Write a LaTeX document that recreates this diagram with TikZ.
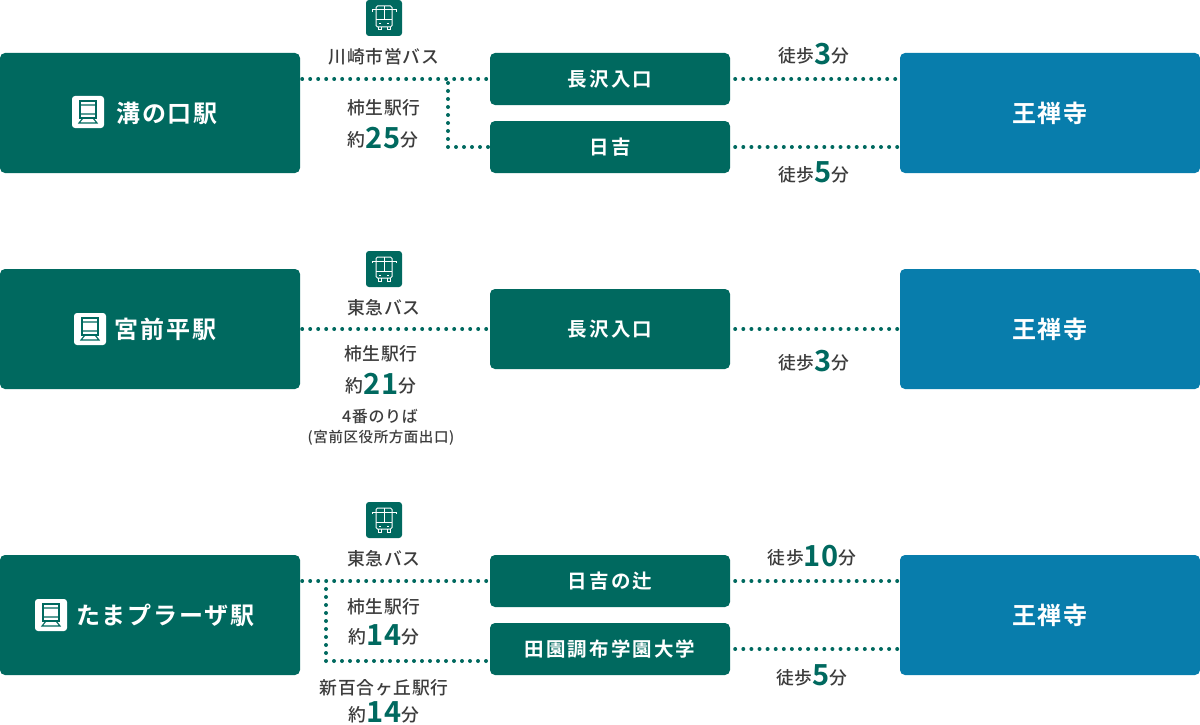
\documentclass[tikz,border=0pt]{standalone}
\usepackage{fontspec}
\setmainfont{Noto Sans CJK JP}
\newfontfamily\boxfont{Noto Sans CJK JP Bold}[LetterSpace=8]
\newfontfamily\stopfont{Noto Sans CJK JP Bold}[LetterSpace=11]
\newfontfamily\notefont{Noto Sans CJK JP Medium}[LetterSpace=4]
\newfontfamily\numfont{Noto Sans CJK JP Bold}[LetterSpace=2]
\definecolor{tealbox}{HTML}{00695F}
\definecolor{bluebox}{HTML}{087DAC}
\definecolor{notegray}{HTML}{3C3C3C}
\newcommand{\mins}[1]{\raisebox{-1.5pt}{\fontsize{29}{29}\numfont\textcolor{tealbox}{#1}}}
\tikzset{
    stationbox/.style={fill=tealbox, rounded corners=5pt, minimum width=300pt, minimum height=120pt, inner sep=0pt, text=white, font=\fontsize{24}{24}\boxfont},
    templebox/.style={stationbox, fill=bluebox},
    stopbox/.style={fill=tealbox, rounded corners=5pt, minimum width=240pt, minimum height=52pt, inner sep=0pt, text=white, font=\fontsize{19.5}{20}\stopfont},
    note/.style={inner sep=0pt, yshift=-0.7pt, text=notegray, font=\fontsize{17.8}{18}\notefont},
    smallnote/.style={note, font=\fontsize{16}{16}\notefont},
    exitnote/.style={note, font=\fontsize{14.5}{15}\notefont},
    dotline/.style={draw=tealbox, line width=4pt, line cap=round, dash pattern=on 0pt off 8pt},
    walkline/.style={dotline, dash pattern=on 0pt off 8.1pt},
    trainicon/.pic={
        \fill[white, rounded corners=3pt] (-16,-16) rectangle (16,16);
        \draw[tealbox, line width=1.1pt] (-8,6) -- (-8,-11) -- (8,-11) -- (8,6) -- cycle;
        \draw[tealbox, line width=1.1pt] (-8,-7) -- (8,-7) (-8,2) -- (8,2) (-5,6) -- (-9,11) -- (9,11) -- (5,6);
    },
    busicon/.pic={
        \fill[tealbox, rounded corners=3pt] (-18,-18) rectangle (18,18);
        \draw[white, line width=1pt, rounded corners=1.5pt] (-8,-12) rectangle (8,9);
        \draw[white, line width=1pt] (-8,2) -- (8,2) (0,-12) -- (0,2) (-12,-6) -- (-12,-8) -- (12,-8) -- (12,-6) (-5,6) -- (-3,6) (3,6) -- (5,6) (-6,9) -- (-6,12) -- (-3,12) -- (-3,9) (3,9) -- (3,12) -- (6,12) -- (6,9);
    }
}
\begin{document}
\begin{tikzpicture}[x=1pt, y=-1pt]
    \useasboundingbox (0,0) rectangle (1200,725);

    % --- MIZONOKUCHI ---
    \node[stationbox] (mizo) at (150,113) {\hspace*{34pt}溝の口駅};
    \pic at (88,112) {trainicon};
    \node[stopbox] (nagasawaA) at (610,79) {長沢入口};
    \node[stopbox] (hiyoshiA) at (610,147) {日吉};
    \node[templebox] (templeA) at (1050,113) {王禅寺};
    \pic at (384,18) {busicon};
    \node[note] (busA) at (384,56) {川崎市営バス};
    \node[note] (destA) at (384,107) {柿生駅行};
    \node[note] (timeA) at (383,137) {約\mins{25}分};
    \node[note] (walkA) at (814,53) {徒歩\mins{3}分};
    \node[note] (walkB) at (814,172) {徒歩\mins{5}分};
    % Bus and walking lines
    \coordinate (forkA) at (448,79);
    \draw[dotline] (nagasawaA.west -| mizo.east) ++(2,0) -- ([xshift=-3pt]nagasawaA.west);
    \draw[dotline] (forkA) ++(0,4) -- (forkA |- hiyoshiA.west) -- ([xshift=-1pt]hiyoshiA.west);
    \draw[dotline] ([xshift=5pt]nagasawaA.east) -- (nagasawaA.east -| templeA.west);
    \draw[walkline] ([xshift=5pt]hiyoshiA.east) -- (hiyoshiA.east -| templeA.west);

    % --- MIYAMAEDAIRA ---
    \node[stationbox] (miya) at (150,329) {\hspace*{31pt}宮前平駅};
    \pic at (90,329) {trainicon};
    \node[stopbox, minimum height=80pt] (nagasawaB) at (610,329) {長沢入口};
    \node[templebox] (templeB) at (1050,329) {王禅寺};
    \pic at (384,269) {busicon};
    \node[note] (busB) at (384,307) {東急バス};
    \node[note] (destB) at (381,353) {柿生駅行};
    \node[note] (timeB) at (381,383) {約\mins{21}分};
    \node[smallnote] (gateB) at (380,416) {4番のりば};
    \node[exitnote] (exitB) at (381,437) {(宮前区役所方面出口)};
    \node[note] (walkC) at (814,360) {徒歩\mins{3}分};
    % Bus and walking lines
    \draw[dotline] (miya.east) ++(2,0) -- ([xshift=-3pt]nagasawaB.west);
    \draw[walkline] ([xshift=5pt]nagasawaB.east) -- (templeB.west);

    % --- TAMA PLAZA ---
    \node[stationbox] (tama) at (150,615) {\hspace*{31pt}たまプラーザ駅};
    \pic at (51,615) {trainicon};
    \node[stopbox] (hiyoshitsuji) at (610,581) {日吉の辻};
    \node[stopbox] (denen) at (610,649) {田園調布学園大学};
    \node[templebox] (templeC) at (1050,615) {王禅寺};
    \pic at (384,520) {busicon};
    \node[note] (busC) at (384,558) {東急バス};
    \node[note] (destC) at (384,606) {柿生駅行};
    \node[note] (timeC) at (384,634) {約\mins{14}分};
    \node[note] (destD) at (384,687) {新百合ヶ丘駅行};
    \node[note] (timeD) at (384,711.5) {約\mins{14}分};
    \node[note] (walkD) at (812,555) {徒歩\mins{10}分};
    \node[note] (walkE) at (812,675) {徒歩\mins{5}分};
    % Bus and walking lines
    \coordinate (forkC) at (326,581);
    \coordinate (turnC) at (326,661);
    \draw[dotline] (hiyoshitsuji.west -| tama.east) ++(2,0) -- ([xshift=-3pt]hiyoshitsuji.west);
    \draw[dotline] (forkC) ++(0,8) -- (turnC) -- (turnC -| denen.west);
    \draw[walkline] ([xshift=5pt]hiyoshitsuji.east) -- (hiyoshitsuji.east -| templeC.west);
    \draw[walkline] ([xshift=5pt]denen.east) -- (denen.east -| templeC.west);
\end{tikzpicture}
\end{document}
